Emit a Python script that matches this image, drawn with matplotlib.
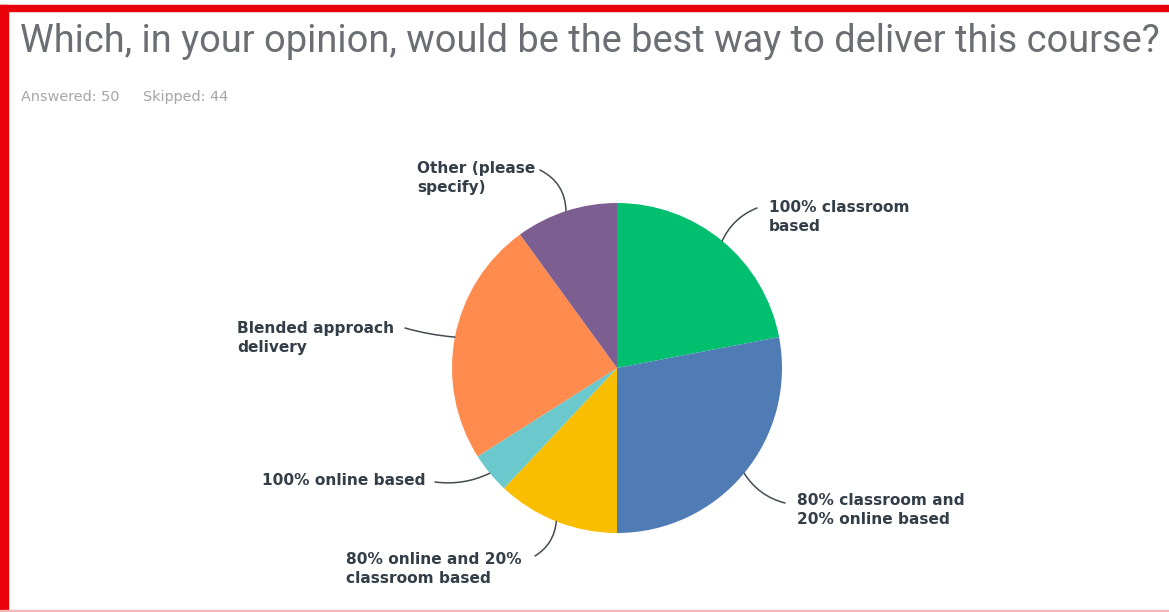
import numpy as np
import matplotlib.pyplot as plt
from matplotlib.patches import Rectangle

# Survey results: responses per option
options = ["100% classroom\nbased",
           "80% classroom and\n20% online based",
           "80% online and 20%\nclassroom based",
           "100% online based",
           "Blended approach\ndelivery",
           "Other (please\nspecify)"]
counts = [11, 14, 6, 2, 12, 5]
colors = ["#00bf6f", "#507cb6", "#f9be00", "#6bc8cd", "#ff8b4f", "#7d5e90"]

title = "Which, in your opinion, would be the best way to deliver this course?"
answered = 50
skipped = 44

W, H = 1169, 612
fig = plt.figure(figsize=(W / 100, H / 100), dpi=100)
fig.patch.set_facecolor("white")

# pie placed by pixel centre / radius
cx, cy, r = 617, 612 - 368, 165
ax = fig.add_axes([(cx - r) / W, (cy - r) / H, 2 * r / W, 2 * r / H])
wedges, _ = ax.pie(counts, colors=colors, startangle=90, counterclock=False,
                   radius=1, wedgeprops=dict(linewidth=0))
ax.set_xlim(-1, 1)
ax.set_ylim(-1, 1)
ax.set_aspect("equal")
ax.axis("off")

# label text anchor (top-left, px from top) and leader start (px from top)
label_pos = [(769, 200), (797, 493), (346, 552), (262, 473), (237, 321), (417, 161)]
leader_start = [(757, 208), (785, 503), (535, 556), (435, 482), (405, 328), (540, 170)]
leader_rad = [0.2, -0.2, 0.25, 0.15, 0.05, -0.3]

txt_kw = dict(family=["DejaVu Sans"], fontweight="bold", fontsize=11.1,
              color="#333e48", linespacing=1.3)
for w, lbl, (tx, ty), (sx, sy), rad in zip(wedges, options, label_pos,
                                            leader_start, leader_rad):
    mid = np.deg2rad((w.theta1 + w.theta2) / 2)
    fig.text(tx / W, 1 - ty / H, lbl, ha="left", va="top", **txt_kw)
    ax.annotate("", xy=(np.cos(mid), np.sin(mid)), xycoords="data",
                xytext=(sx, H - sy), textcoords="figure pixels",
                arrowprops=dict(arrowstyle="-", color="#444b52", lw=1.1,
                                shrinkA=0, shrinkB=0,
                                connectionstyle=f"arc3,rad={rad}"))

fig.text(20 / W, 1 - 42 / H, title, ha="left", va="center",
         family=["Roboto", "DejaVu Sans"], fontsize=27.4, color="#6b6e72")
fig.text(21 / W, 1 - 97 / H, f"Answered: {answered}", ha="left", va="center",
         family=["DejaVu Sans"], fontsize=10.4, color="#a3a6a9")
fig.text(143 / W, 1 - 97 / H, f"Skipped: {skipped}", ha="left", va="center",
         family=["DejaVu Sans"], fontsize=10.4, color="#a3a6a9")

# red frame
red = "#e8000b"
fig.patches.append(Rectangle((0, 1 - 11 / H), 1, 6 / H, transform=fig.transFigure,
                             color=red, zorder=10))
fig.patches.append(Rectangle((0, 0), 8 / W, 1 - 5 / H, transform=fig.transFigure,
                             color=red, zorder=10))
fig.patches.append(Rectangle((0, 0), 1, 2 / H, transform=fig.transFigure,
                             color="#f4b8b8", zorder=10))

fig.savefig("out.png", dpi=100)
